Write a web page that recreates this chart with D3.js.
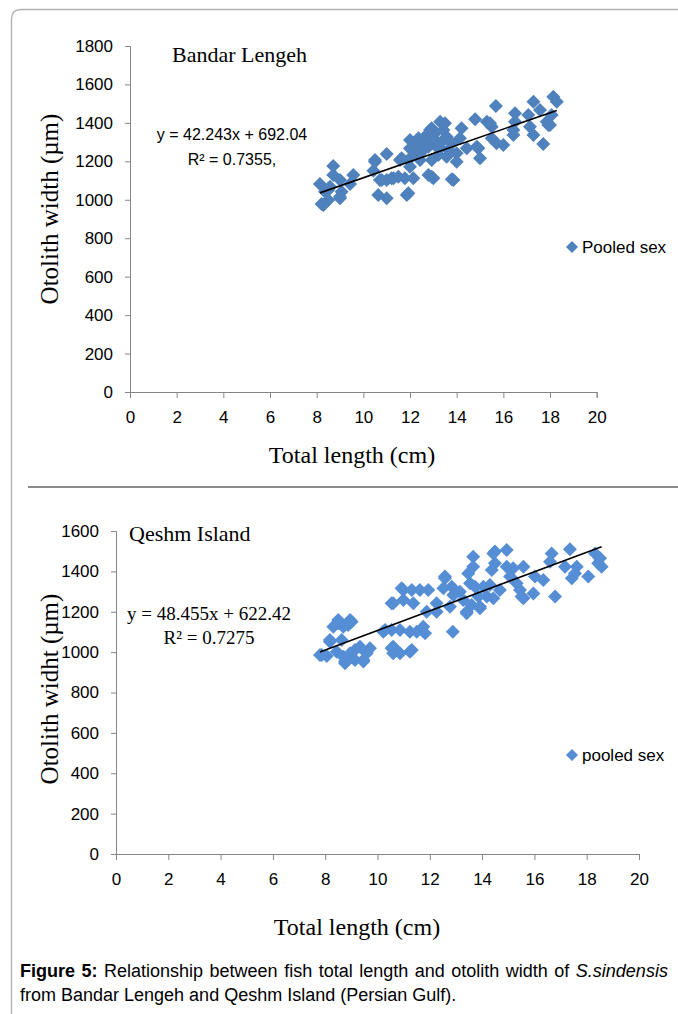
<!DOCTYPE html>
<html>
<head>
<meta charset="utf-8">
<script src="https://cdn.jsdelivr.net/npm/d3@7"></script>
<style>
  body { margin: 0; background: #fff; }
  svg { display: block; }
  .axis path, .axis line { stroke: #868686; stroke-width: 1; }
  .axis text { font-family: "Liberation Sans Narrow", "Liberation Sans", sans-serif; font-size: 17px; fill: #000; }
  .serif { font-family: "Liberation Serif", "DejaVu Serif", serif; fill: #000; }
  .narrow { font-family: "Liberation Sans Narrow", "Liberation Sans", sans-serif; fill: #000; }
</style>
</head>
<body>
<svg id="fig" width="678" height="1014"></svg>
<script>
// Bandar Lengeh: total length (cm) / otolith width (um)
const blLength = [8.14, 8.21, 8.5, 8.71, 8.71, 8.57, 9.0, 9.07, 9.0, 9.57, 9.43, 8.36, 8.29, 8.5, 9.0,
  10.5, 10.43, 11.0, 10.71, 10.64, 11.0, 11.21, 11.5, 11.78, 12.14, 11.57, 12.0, 11.93, 12.21, 11.86,
  12.0, 12.0, 11.0, 10.5, 11.93, 11.64, 11.29, 10.79, 12.07,
  12.86, 13.29, 13.0, 12.57, 12.79, 13.14, 13.57, 13.79, 14.21, 14.14, 14.0, 14.0, 13.57, 12.43, 12.93,
  12.79, 13.0, 13.79, 13.29, 12.43, 13.43, 12.93, 12.93, 12.64, 13.5, 13.86, 14.86,
  12.71, 13.07, 13.36, 12.5, 13.21, 12.36, 13.64, 12.21,
  14.43, 14.79, 14.93, 15.0, 15.29, 15.5, 15.5, 15.68, 16.0, 15.43, 15.71,
  16.5, 16.5, 16.43, 16.43, 17.07, 17.29, 17.14, 17.29, 17.57, 17.71, 17.86, 17.93, 18.0, 18.07, 18.14, 18.29];
const blWidth = [1082, 978, 999, 1176, 1129, 1068, 1103, 1042, 1008, 1129, 1082, 1042, 973, 1051, 1016,
  1207, 1151, 1238, 1103, 1025, 1008, 1112, 1120, 1112, 1112, 1207, 1311, 1207, 1242, 1025,
  1268, 1172, 1103, 1198, 1034, 1216, 1112, 1103, 1259,
  1363, 1406, 1320, 1302, 1276, 1276, 1328, 1294, 1372, 1320, 1242, 1198, 1224, 1207, 1207,
  1129, 1112, 1107, 1268, 1285, 1363, 1120, 1372, 1311, 1398, 1103, 1276,
  1337, 1346, 1302, 1250, 1233, 1320, 1259, 1285,
  1268, 1419, 1268, 1216, 1406, 1380, 1320, 1488, 1285, 1398, 1294,
  1450, 1406, 1337, 1363, 1441, 1510, 1380, 1337, 1467, 1290, 1406, 1389, 1389, 1441, 1536, 1510];
const blFit = [42.243, 692.04];

// Qeshm Island
const qiLength = [7.87, 8.06, 8.18, 8.31, 8.5, 8.69, 8.95, 8.88, 8.63, 8.44, 8.69, 8.76, 8.95, 9.14, 9.14,
  9.46, 9.71, 9.59, 9.33, 7.8, 8.18, 8.5, 9.01, 9.46, 8.76,
  10.29, 10.6, 10.54, 10.6, 10.6, 10.86, 10.86, 11.24, 10.99, 11.31, 10.99, 11.37, 11.62, 11.94,
  11.24, 11.5, 11.75, 11.82, 11.88, 12.26, 12.26, 10.54, 10.92, 10.54, 11.31, 10.22,
  12.58, 12.52, 12.84, 12.9, 12.77, 12.88, 13.15, 13.28, 13.41, 13.47, 13.66, 13.66, 13.54, 13.73,
  13.6, 13.92, 13.86, 14.05, 14.3, 14.43, 14.49, 14.37, 14.18, 14.43, 14.68, 14.49, 12.58, 13.41, 13.92,
  14.94, 14.94, 15.19, 15.07, 15.32, 15.45, 15.58, 15.58, 15.51, 15.96, 16.02, 16.34, 16.66, 16.6,
  16.79, 17.17, 17.36, 17.43, 17.62, 17.55, 18.06, 18.32, 18.51, 18.57, 18.44];
const qiWidth = [986, 981, 1052, 1126, 1159, 1126, 1159, 1134, 1060, 1002, 977, 945, 994, 1011, 961,
  953, 1019, 994, 1027, 986, 1060, 1143, 1151, 961, 953,
  1110, 1242, 1110, 1027, 994, 994, 1110, 1002, 1308, 1308, 1258, 1242, 1308, 1308,
  1101, 1101, 1126, 1093, 1200, 1242, 1200, 1019, 1316, 1242, 1011, 1101,
  1366, 1316, 1324, 1283, 1225, 1101, 1299, 1258, 1192, 1390, 1473, 1423, 1341, 1324,
  1234, 1217, 1275, 1324, 1332, 1489, 1440, 1407, 1275, 1267, 1308, 1498, 1374, 1200, 1225,
  1506, 1423, 1415, 1374, 1341, 1308, 1267, 1423, 1275, 1291, 1374, 1357, 1489, 1448,
  1275, 1423, 1509, 1366, 1423, 1390, 1374, 1489, 1465, 1423, 1440];
const qiFit = [48.455, 622.42];

const lengthTicks = [0, 2, 4, 6, 8, 10, 12, 14, 16, 18, 20];
const blWidthTicks = [0, 200, 400, 600, 800, 1000, 1200, 1400, 1600, 1800];
const qiWidthTicks = [0, 200, 400, 600, 800, 1000, 1200, 1400, 1600];

const svg = d3.select('#fig');

// page frame
svg.append('path')
  .attr('d', 'M11.5,1014 L11.5,19 Q11.5,9.5 21,9.5 L678,9.5')
  .attr('fill', 'none').attr('stroke', '#b0b0b0').attr('stroke-width', 1.3);
svg.append('line')
  .attr('x1', 28).attr('x2', 678).attr('y1', 487).attr('y2', 487)
  .attr('stroke', '#8c8c8c').attr('stroke-width', 2);

const diamond = r => `M0,${-r}L${r},0L0,${r}L${-r},0Z`;

function drawPanel(p) {
  const x = d3.scaleLinear().domain([0, 20]).range(p.xRange);
  const y = d3.scaleLinear().domain([0, d3.max(p.yTicks)]).range(p.yRange);
  const g = svg.append('g');

  g.append('g')
    .attr('class', 'axis')
    .attr('transform', `translate(0,${p.yRange[0]})`)
    .call(d3.axisBottom(x).tickValues(lengthTicks).tickFormat(d3.format('d'))
      .tickSize(6).tickSizeOuter(6).tickPadding(13));

  g.append('g')
    .attr('class', 'axis')
    .attr('transform', `translate(${p.xRange[0]},0)`)
    .call(d3.axisLeft(y).tickValues(p.yTicks).tickFormat(d3.format('d'))
      .tickSize(5).tickSizeOuter(5).tickPadding(12));

  const pts = p.len.map((d, i) => [d, p.wid[i]]);
  g.append('g').selectAll('path')
    .data(pts)
    .enter()
    .append('path')
    .attr('d', diamond(7))
    .attr('transform', d => `translate(${x(d[0])},${y(d[1])})`)
    .attr('fill', p.colour);

  const x0 = d3.min(p.len), x1 = d3.max(p.len);
  g.append('line')
    .attr('x1', x(x0)).attr('y1', y(p.fit[0] * x0 + p.fit[1]))
    .attr('x2', x(x1)).attr('y2', y(p.fit[0] * x1 + p.fit[1]))
    .attr('stroke', '#000').attr('stroke-width', 1.6);

  g.append('text').attr('class', 'serif')
    .attr('x', p.titleX).attr('y', p.titleY)
    .style('font-size', '22px').text(p.title);

  const eq = g.append('text').attr('class', p.eqClass)
    .attr('text-anchor', 'middle')
    .style('font-size', p.eqSize + 'px');
  eq.append('tspan').attr('x', p.eqX).attr('y', p.eqY)
    .text(`y = ${p.fit[0]}x + ${p.fit[1]}`);
  eq.append('tspan').attr('x', p.eqX).attr('y', p.eqY + p.eqGap)
    .text(p.r2);

  g.append('text').attr('class', 'serif')
    .attr('text-anchor', 'middle')
    .attr('transform', `translate(58,${p.yTitleY}) rotate(-90)`)
    .style('font-size', '25px').text(p.yTitle);

  g.append('text').attr('class', 'serif')
    .attr('text-anchor', 'middle')
    .attr('x', p.xTitleX).attr('y', p.xTitleY)
    .style('font-size', '24px').text('Total length (cm)');

  g.append('path')
    .attr('d', diamond(6))
    .attr('transform', `translate(572,${p.legendY})`)
    .attr('fill', p.colour);
  g.append('text').attr('class', 'narrow')
    .attr('x', 582).attr('y', p.legendY + 6)
    .style('font-size', '17px').text(p.legend);
}

drawPanel({
  len: blLength, wid: blWidth, fit: blFit, colour: '#4f81bd',
  xRange: [130, 596.7], yRange: [392, 46], yTicks: blWidthTicks,
  title: 'Bandar Lengeh', titleX: 172, titleY: 62,
  eqClass: 'narrow', eqSize: 16, eqX: 232, eqY: 140, eqGap: 25, r2: 'R² = 0.7355,',
  yTitle: 'Otolith width (µm)', yTitleY: 209,
  xTitleX: 352, xTitleY: 463,
  legend: 'Pooled sex', legendY: 247
});

drawPanel({
  len: qiLength, wid: qiWidth, fit: qiFit, colour: '#558ed5',
  xRange: [116, 639], yRange: [854, 531], yTicks: qiWidthTicks,
  title: 'Qeshm Island', titleX: 129, titleY: 541,
  eqClass: 'serif', eqSize: 19, eqX: 209, eqY: 620, eqGap: 24, r2: 'R² = 0.7275',
  yTitle: 'Otolith widht (µm)', yTitleY: 689,
  xTitleX: 357, xTitleY: 935,
  legend: 'pooled sex', legendY: 755
});

// caption
const cap = svg.append('text')
  .style('font-family', '"Liberation Sans", Arial, sans-serif')
  .style('font-size', '18px');
const l1 = cap.append('tspan').attr('x', 20).attr('y', 977).style('word-spacing', '1.5px');
l1.append('tspan').style('font-weight', 'bold').text('Figure 5:');
l1.append('tspan').text(' Relationship between fish total length and otolith width of ');
l1.append('tspan').style('font-style', 'italic').text('S.sindensis');
cap.append('tspan').attr('x', 20).attr('y', 1001)
  .text('from Bandar Lengeh and Qeshm Island (Persian Gulf).');
</script>
</body>
</html>
